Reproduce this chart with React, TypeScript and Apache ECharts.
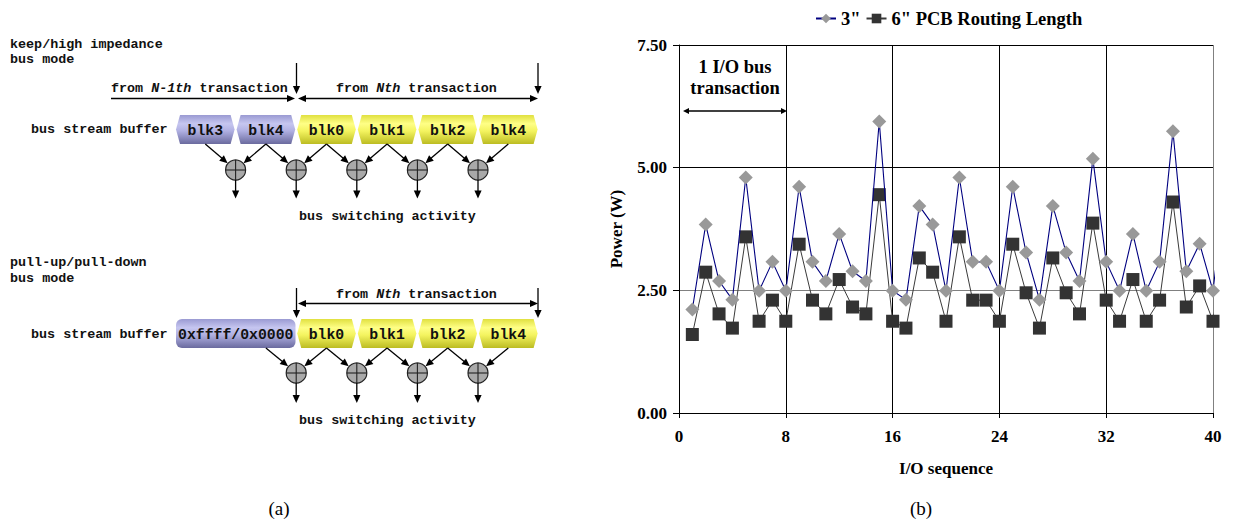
import React, { useEffect, useRef } from 'react';
import * as echarts from 'echarts';

// ---------- data ----------
const ioSequence = [1, 2, 3, 4, 5, 6, 7, 8, 9, 10, 11, 12, 13, 14, 15, 16, 17, 18, 19, 20, 21, 22, 23, 24, 25, 26, 27, 28, 29, 30, 31, 32, 33, 34, 35, 36, 37, 38, 39, 40, 41];
const power3in = [2.11, 3.84, 2.69, 2.31, 4.80, 2.49, 3.08, 2.49, 4.61, 3.08, 2.69, 3.65, 2.89, 2.69, 5.94, 2.49, 2.31, 4.22, 3.84, 2.49, 4.80, 3.08, 3.08, 2.49, 4.61, 3.27, 2.31, 4.22, 3.27, 2.69, 5.18, 3.08, 2.49, 3.65, 2.49, 3.08, 5.74, 2.89, 3.45, 2.49, 4.80];
const power6in = [1.60, 2.87, 2.02, 1.73, 3.59, 1.87, 2.30, 1.87, 3.44, 2.30, 2.02, 2.72, 2.16, 2.02, 4.45, 1.87, 1.73, 3.16, 2.87, 1.87, 3.59, 2.30, 2.30, 1.87, 3.44, 2.45, 1.73, 3.16, 2.45, 2.02, 3.87, 2.30, 1.87, 2.72, 1.87, 2.30, 4.30, 2.16, 2.59, 1.87, 3.59];
const seriesNames = ['3"', '6" PCB Routing Length'];

// diagram (a) labels
const topBlocks = ['blk3', 'blk4', 'blk0', 'blk1', 'blk2', 'blk4'];
const bottomBlocks = ['blk0', 'blk1', 'blk2', 'blk4'];

const SERIF = "'Liberation Serif', 'Times New Roman', serif";
const MONO = "'Liberation Mono', 'Courier New', monospace";
const MFS = 13.4; // mono font size
const CW = MFS * 0.6;

function txt(x: number, y: number, text: string, opts: any = {}) {
  const align = opts.align || 'left';
  return {
    type: 'text',
    x,
    y,
    silent: true,
    style: {
      text,
      fontFamily: opts.family || MONO,
      fontSize: opts.size || MFS,
      fontWeight: opts.weight || 'bold',
      fontStyle: opts.style || 'normal',
      fill: opts.color || '#111',
      align,
      textAlign: align,
      verticalAlign: 'middle',
      textVerticalAlign: 'middle',
    },
  };
}

function arrow(x1: number, y1: number, x2: number, y2: number, head = 8, hw = 3.6, color = '#000') {
  const dx = x2 - x1, dy = y2 - y1;
  const L = Math.hypot(dx, dy);
  const ux = dx / L, uy = dy / L;
  const bx = x2 - ux * head, by = y2 - uy * head;
  return [
    { type: 'line', silent: true, shape: { x1, y1, x2: bx + ux, y2: by + uy }, style: { stroke: color, lineWidth: 1.3 } },
    { type: 'polygon', silent: true, shape: { points: [[x2, y2], [bx - uy * hw, by + ux * hw], [bx + uy * hw, by - ux * hw]] }, style: { fill: color } },
  ];
}

function dblArrow(x1: number, x2: number, y: number, head = 8, hw = 3.6) {
  return [
    { type: 'line', silent: true, shape: { x1: x1 + head - 1, y1: y, x2: x2 - head + 1, y2: y }, style: { stroke: '#000', lineWidth: 1.3 } },
    { type: 'polygon', silent: true, shape: { points: [[x1, y], [x1 + head, y - hw], [x1 + head, y + hw]] }, style: { fill: '#000' } },
    { type: 'polygon', silent: true, shape: { points: [[x2, y], [x2 - head, y - hw], [x2 - head, y + hw]] }, style: { fill: '#000' } },
  ];
}

const lavender = () => new echarts.graphic.LinearGradient(0, 0, 0, 1, [
  { offset: 0, color: '#9a9ad2' },
  { offset: 0.3, color: '#c6c6f0' },
  { offset: 0.55, color: '#b0b0e2' },
  { offset: 1, color: '#6a6a9e' },
]);
const yellow = () => new echarts.graphic.LinearGradient(0, 0, 0, 1, [
  { offset: 0, color: '#e0e040' },
  { offset: 0.3, color: '#ffff86' },
  { offset: 0.55, color: '#f4f460' },
  { offset: 1, color: '#bcbc22' },
]);

function hexBlock(x: number, y: number, w: number, h: number, fill: any, label: string) {
  const p = 4;
  return [
    { type: 'polygon', silent: true, shape: { points: [[x, y + h / 2], [x + p, y], [x + w - p, y], [x + w, y + h / 2], [x + w - p, y + h], [x + p, y + h]] }, style: { fill } },
    txt(x + w / 2, y + h / 2 + 1, label, { size: 14.8, align: 'center', color: '#111' }),
  ];
}

function xorCircle(cx: number, cy: number, r = 10) {
  return [
    { type: 'circle', silent: true, shape: { cx, cy, r }, style: { fill: '#a9a9a9', stroke: '#222', lineWidth: 1.2 } },
    { type: 'line', silent: true, shape: { x1: cx - r, y1: cy, x2: cx + r, y2: cy }, style: { stroke: '#222', lineWidth: 1.1 } },
    { type: 'line', silent: true, shape: { x1: cx, y1: cy - r, x2: cx, y2: cy + r }, style: { stroke: '#222', lineWidth: 1.1 } },
  ];
}

function toCircle(sx: number, sy: number, cx: number, cy: number, r = 10) {
  const dx = sx - cx, dy = sy - cy;
  const L = Math.hypot(dx, dy);
  return arrow(sx, sy, cx + (dx / L) * (r + 0.5), cy + (dy / L) * (r + 0.5), 8, 3.6);
}

function buildDiagram() {
  const els: any[] = [];
  const X0 = 176, PITCH = 60.6, W = 58.6;
  const lefts = topBlocks.map((_, i) => X0 + i * PITCH);

  // ---------- top: keep/high impedance ----------
  els.push(txt(10, 44, 'keep/high impedance'));
  els.push(txt(10, 59, 'bus mode'));
  els.push(txt(111, 88, 'from '));
  els.push(txt(111 + 5 * CW, 88, 'N-1th', { style: 'italic' }));
  els.push(txt(111 + 10 * CW, 88, ' transaction'));
  els.push(txt(336, 88, 'from '));
  els.push(txt(336 + 5 * CW, 88, 'Nth', { style: 'italic' }));
  els.push(txt(336 + 8 * CW, 88, ' transaction'));
  els.push(...arrow(111, 98.5, 295, 98.5));
  els.push(...dblArrow(298, 538, 98.5));
  els.push(...arrow(296.5, 63, 296.5, 94));
  els.push(...arrow(538, 63, 538, 94));
  els.push(txt(31, 129, 'bus stream buffer'));
  const topY = 115, H = 29;
  topBlocks.forEach((b, i) => {
    els.push(...hexBlock(lefts[i], topY, W, H, i < 2 ? lavender() : yellow(), b));
  });
  const topCy = 170;
  for (let k = 1; k < topBlocks.length; k++) {
    const cx = lefts[k] - 1;
    els.push(...xorCircle(cx, topCy));
    els.push(...toCircle(lefts[k - 1] + W / 2, topY + H, cx, topCy));
    els.push(...toCircle(lefts[k] + W / 2, topY + H, cx, topCy));
    els.push(...arrow(cx, topCy + 10, cx, 198.5));
  }
  els.push(txt(299, 216, 'bus switching activity'));

  // ---------- bottom: pull-up/pull-down ----------
  els.push(txt(10, 262, 'pull-up/pull-down'));
  els.push(txt(10, 278, 'bus mode'));
  els.push(txt(336, 294, 'from '));
  els.push(txt(336 + 5 * CW, 294, 'Nth', { style: 'italic' }));
  els.push(txt(336 + 8 * CW, 294, ' transaction'));
  els.push(...dblArrow(298, 538, 303.5));
  els.push(...arrow(296.5, 288, 296.5, 318));
  els.push(...arrow(538, 288, 538, 318));
  els.push(txt(31, 334, 'bus stream buffer'));
  const botY = 319;
  els.push({ type: 'rect', silent: true, shape: { x: 176, y: botY, width: 119.5, height: H, r: 6 }, style: { fill: lavender() } });
  els.push(txt(176 + 119.5 / 2, botY + H / 2 + 1, '0xffff/0x0000', { size: 14.8, align: 'center' }));
  const bLefts = bottomBlocks.map((_, i) => X0 + (i + 2) * PITCH);
  bottomBlocks.forEach((b, i) => {
    els.push(...hexBlock(bLefts[i], botY, W, H, yellow(), b));
  });
  const botCy = 373;
  for (let k = 0; k < bottomBlocks.length; k++) {
    const cx = bLefts[k] - 1;
    const srcX = k === 0 ? X0 + PITCH + W / 2 : bLefts[k - 1] + W / 2;
    els.push(...xorCircle(cx, botCy));
    els.push(...toCircle(srcX, botY + H, cx, botCy));
    els.push(...toCircle(bLefts[k] + W / 2, botY + H, cx, botCy));
    els.push(...arrow(cx, botCy + 10, cx, 403));
  }
  els.push(txt(299, 420, 'bus switching activity'));

  // captions
  els.push(txt(279, 508, '(a)', { family: SERIF, weight: 'normal', size: 19, align: 'center', color: '#000' }));
  els.push(txt(921, 508, '(b)', { family: SERIF, weight: 'normal', size: 19, align: 'center', color: '#000' }));

  // chart annotation
  els.push(txt(735, 67, '1 I/O bus', { family: SERIF, size: 18.5, align: 'center', color: '#000' }));
  els.push(txt(735, 88, 'transaction', { family: SERIF, size: 18.5, align: 'center', color: '#000' }));
  els.push(...dblArrow(683, 787, 111, 6, 3));
  return els;
}

export default function App() {
  const ref = useRef<HTMLDivElement>(null);
  useEffect(() => {
    if (!ref.current) return;
    const chart = echarts.init(ref.current, undefined, { renderer: 'svg' });
    const axisFont = { fontFamily: SERIF, fontWeight: 'bold' as const, fontSize: 17, color: '#000' };
    chart.setOption({
      animation: false,
      backgroundColor: '#ffffff',
      textStyle: { fontFamily: SERIF },
      legend: {
        left: 810,
        top: 4,
        itemWidth: 20,
        itemHeight: 12,
        itemGap: 5,
        data: seriesNames,
        textStyle: { fontFamily: SERIF, fontWeight: 'bold', fontSize: 18.5, color: '#000' },
      },
      grid: { left: 679, top: 45, width: 534, height: 368, containLabel: false, outerBoundsMode: 'none' },
      xAxis: {
        type: 'value',
        min: 0,
        max: 40,
        interval: 8,
        axisLine: { show: true, lineStyle: { color: '#000', width: 1 } },
        axisTick: { show: true, length: 5, lineStyle: { color: '#000' } },
        axisLabel: { ...axisFont, margin: 15 },
        splitLine: { show: true, lineStyle: { color: ['#000', '#000', '#000', '#000', '#000', '#808080'], width: 1 } },
        name: 'I/O sequence',
        nameLocation: 'middle',
        nameGap: 47,
        nameTextStyle: axisFont,
      },
      yAxis: {
        type: 'value',
        min: 0,
        max: 7.5,
        interval: 2.5,
        axisLine: { show: true, lineStyle: { color: '#000', width: 1 } },
        axisTick: { show: true, length: 6, lineStyle: { color: '#000' } },
        axisLabel: { ...axisFont, margin: 12, formatter: (v: number) => v.toFixed(2) },
        splitLine: { show: true, lineStyle: { color: ['#000', '#808080', '#000', '#000'], width: 1 } },
        name: 'Power (W)',
        nameLocation: 'middle',
        nameGap: 54,
        nameTextStyle: axisFont,
      },
      series: [
        {
          name: seriesNames[1],
          type: 'line',
          data: ioSequence.map((x, i) => [x, power6in[i]]),
          symbol: 'rect',
          symbolSize: 13,
          clip: true,
          itemStyle: { color: '#333333' },
          lineStyle: { color: '#3a3a3a', width: 1 },
          z: 2,
        },
        {
          name: seriesNames[0],
          type: 'line',
          data: ioSequence.map((x, i) => [x, power3in[i]]),
          symbol: 'diamond',
          symbolSize: 14,
          clip: true,
          itemStyle: { color: '#999999' },
          lineStyle: { color: '#000080', width: 1.1 },
          z: 3,
        },
      ],
      graphic: buildDiagram(),
    });
    return () => chart.dispose();
  }, []);
  return <div ref={ref} style={{ position: 'fixed', left: 0, top: 0, width: 1233, height: 522 }} />;
}
